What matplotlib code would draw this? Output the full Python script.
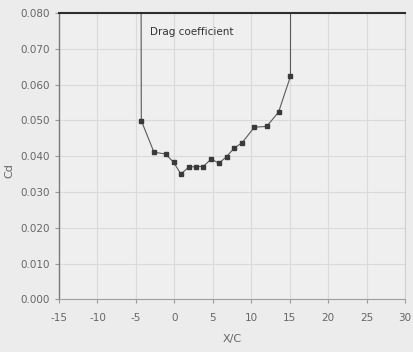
import matplotlib
matplotlib.use("Agg")
import matplotlib.pyplot as plt

plt.rcParams['font.family'] = ['DejaVu Sans']

# drag coefficient along the wake traverse
x_c = [-4.55, -4.3, -2.65, -1.15, -0.1, 0.85, 1.85, 2.8, 3.75, 4.8, 5.8, 6.8,
       7.8, 8.8, 10.4, 12.0, 13.55, 15.1, 15.3]
cd = [0.40, 0.0499, 0.0411, 0.0406, 0.0383, 0.0350, 0.0369, 0.0371, 0.0371,
      0.0392, 0.0380, 0.0399, 0.0423, 0.0437, 0.0481, 0.0483, 0.0523, 0.0623,
      0.40]

x_ticks = list(range(-15, 31, 5))
y_ticks = [i / 100 for i in range(0, 9)]

fig = plt.figure(figsize=(4.13, 3.52), dpi=100, facecolor='#ececec')
ax = fig.add_axes([0.1429, 0.1497, 0.8378, 0.8134])
ax.set_facecolor('#efefef')

ax.plot(x_c, cd, color='#5a5a5a', lw=0.8, marker='s', markersize=3.5,
        markerfacecolor='#3a3a3a', markeredgecolor='#3a3a3a')

ax.set_xlim(-15, 30)
ax.set_ylim(0, 0.08)
ax.set_xticks(x_ticks)
ax.set_xticklabels([str(t) for t in x_ticks])
ax.set_yticks(y_ticks)
ax.set_yticklabels([f'{t:.3f}' for t in y_ticks])
ax.grid(True, color='#dadada', lw=0.8)
ax.set_axisbelow(True)

ax.tick_params(axis='both', colors='#9a9a9a', labelcolor='#666666',
               labelsize=7.5, length=3, width=0.8)
ax.tick_params(axis='x', pad=7)

ax.spines['top'].set_color('#2e2e2e')
ax.spines['top'].set_linewidth(1.5)
ax.spines['left'].set_color('#7a7a7a')
ax.spines['left'].set_linewidth(1.0)
ax.spines['bottom'].set_color('#a0a0a0')
ax.spines['right'].set_color('#d0d0d0')

ax.set_xlabel('X/C', color='#666666', fontsize=8, labelpad=8)
ax.set_ylabel('Cd', color='#666666', fontsize=8, labelpad=3)
ax.yaxis.set_label_coords(-0.13, 0.45)

ax.text(-3.2, 0.0746, 'Drag coefficient', color='#333333', fontsize=7.5,
        va='center', ha='left')

fig.savefig('out.png', dpi=100, facecolor=fig.get_facecolor())
